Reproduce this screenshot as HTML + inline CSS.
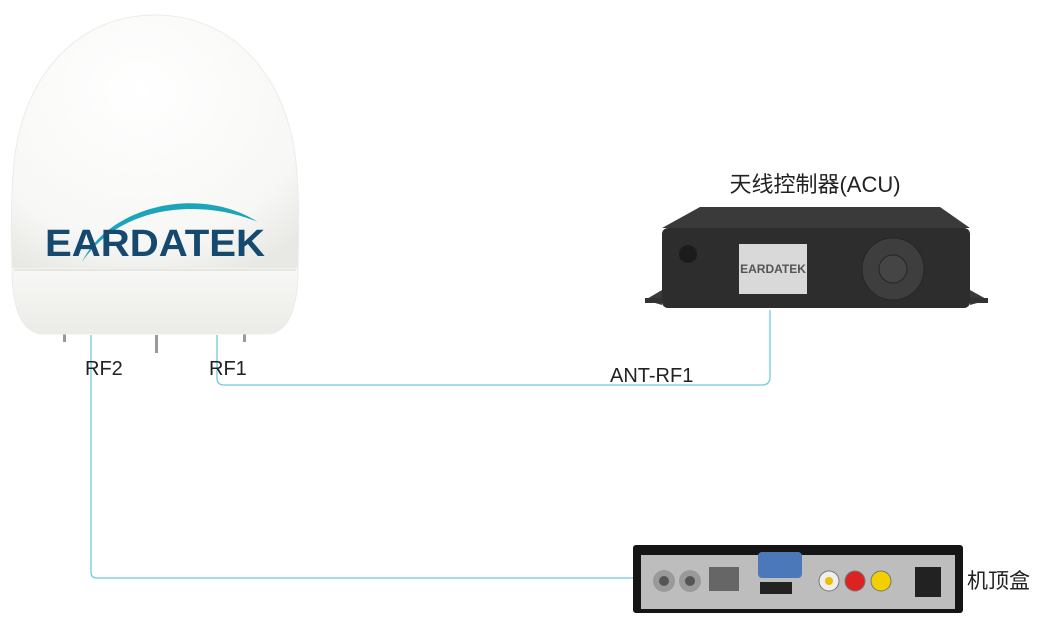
<!DOCTYPE html>
<html><head><meta charset="utf-8"><style>
html,body{margin:0;padding:0;background:#fff;}
svg{display:block}
text{font-family:"Liberation Sans","Noto Sans CJK SC",sans-serif;}
</style></head><body>
<svg width="1062" height="638" viewBox="0 0 1062 638" xmlns="http://www.w3.org/2000/svg">
<defs>
<radialGradient id="dome" cx="0.45" cy="0.3" r="0.8">
<stop offset="0" stop-color="#ffffff"/><stop offset="0.75" stop-color="#f7f7f5"/><stop offset="1" stop-color="#e8e8e5"/>
</radialGradient>
<linearGradient id="base" x1="0" y1="0" x2="0" y2="1">
<stop offset="0" stop-color="#f8f8f6"/><stop offset="1" stop-color="#ebebe8"/>
</linearGradient>
</defs>
<g fill="none" stroke="#6fcbdc" stroke-width="1.3">
<path d="M91 335 V572 Q91 578 97 578 H640"/>
<path d="M217 335 V378 Q217 385 224 385 H762 Q770 385 770 377 V310"/>
</g>
<g fill="#9a9a9a"><rect x="63" y="330" width="3" height="12"/><rect x="155" y="335" width="3" height="18"/><rect x="243" y="330" width="3" height="12"/></g>
<path d="M12 268 C11 230 11 200 13 175 C18 80 75 15 155 15 C235 15 292 80 297 175 C299 200 299 230 298 268 Z" fill="url(#dome)" stroke="#ececea" stroke-width="1"/>
<path d="M12 268 H298 C298 300 292 330 270 334 H40 C18 330 12 300 12 268 Z" fill="url(#base)" stroke="#ececea" stroke-width="1"/>
<line x1="14" y1="270" x2="296" y2="270" stroke="#d8d4cc" stroke-width="1"/>
<path d="M82 262 C110 205 200 185 258 222 C200 198 120 205 82 262 Z" fill="#1aa5ba"/>
<text x="155" y="256" text-anchor="middle" font-size="38" font-weight="bold" fill="#15496f" textLength="220" lengthAdjust="spacingAndGlyphs">EARDATEK</text>
<text x="85" y="375" font-size="20" fill="#222">RF2</text>
<text x="209" y="375" font-size="20" fill="#222">RF1</text>
<text x="610" y="382" font-size="20" fill="#222">ANT-RF1</text>
<text x="815" y="192" text-anchor="middle" font-size="22" fill="#222">天线控制器(ACU)</text>
<text x="967" y="588" font-size="21" fill="#222">机顶盒</text>
<path d="M645 300 L662 290 L662 305 Z M988 300 L970 290 L970 305 Z" fill="#3a3a3a"/>
<path d="M645 298 H988 V303 H645Z" fill="#333"/>
<path d="M700 207 H940 L970 228 H662 Z" fill="#3a3a3a"/>
<rect x="662" y="228" width="308" height="80" rx="6" fill="#2d2d2d"/>
<circle cx="688" cy="254" r="9" fill="#1c1c1c"/>
<rect x="739" y="244" width="68" height="50" fill="#d9d9d9"/>
<text x="773" y="273" text-anchor="middle" font-size="12" font-weight="bold" fill="#555">EARDATEK</text>
<circle cx="893" cy="269" r="31" fill="#3e3e3e" stroke="#262626"/>
<circle cx="893" cy="269" r="14" fill="#454545" stroke="#262626"/>
<rect x="633" y="545" width="330" height="68" rx="3" fill="#151515"/>
<rect x="641" y="555" width="314" height="54" fill="#bdbdbd"/>
<rect x="758" y="552" width="44" height="26" rx="4" fill="#4b78b8"/>
<circle cx="664" cy="581" r="11" fill="#9a9a9a"/><circle cx="664" cy="581" r="5" fill="#555"/>
<circle cx="690" cy="581" r="11" fill="#9a9a9a"/><circle cx="690" cy="581" r="5" fill="#555"/>
<rect x="709" y="567" width="30" height="24" fill="#666"/>
<rect x="760" y="582" width="32" height="12" fill="#222"/>
<circle cx="829" cy="581" r="10" fill="#eee" stroke="#777"/><circle cx="829" cy="581" r="4" fill="#e8c000"/>
<circle cx="855" cy="581" r="10" fill="#dd2222" stroke="#777"/>
<circle cx="881" cy="581" r="10" fill="#f2d000" stroke="#777"/>
<rect x="915" y="567" width="26" height="30" fill="#222"/>
</svg>
</body></html>
